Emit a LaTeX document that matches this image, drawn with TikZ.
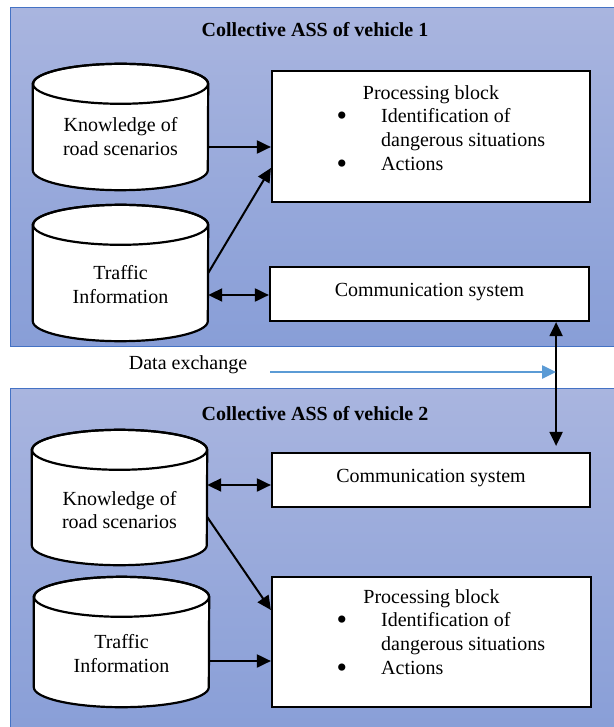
\documentclass[tikz,border=0pt]{standalone}
\usepackage{fontspec}
\setmainfont{Liberation Serif}
\usetikzlibrary{arrows.meta,calc}
\definecolor{panelborder}{HTML}{4472C4}
\definecolor{paneltop}{HTML}{A9B5DF}
\definecolor{panelbot}{HTML}{889ED7}
\definecolor{dataarrow}{HTML}{5B9BD5}
\newcommand\drawcylinder[1]{%
  \path[cylline] ($(#1.north west)+(0,20)$) -- ($(#1.south west)+(0,-20)$)
    arc[start angle=180,end angle=360,x radius=87.5pt,y radius=20pt]
    -- ($(#1.north east)+(0,20)$)
    arc[start angle=0,end angle=180,x radius=87.5pt,y radius=20pt] -- cycle;
  \draw[line width=2.2pt] ($(#1.north)+(0,20)$) ellipse[x radius=87.5pt,y radius=20pt];
}
\newcommand\bigbullet{\makebox[45pt][l]{\hspace*{0.5pt}\raisebox{-2.5pt}{\fontsize{30}{24}\selectfont\textbullet}}}
\begin{document}
\begin{tikzpicture}[x=1pt,y=-1pt,
  font=\fontsize{20}{23.5}\selectfont,
  panel/.style={draw=panelborder, line width=1pt, top color=paneltop, bottom color=panelbot},
  cylnode/.style={inner sep=0pt, minimum width=175pt},
  cylline/.style={draw=black, fill=white, line width=2.2pt},
  box/.style={draw=black, fill=white, line width=2.2pt, inner sep=0pt},
  txt/.style={align=center, inner sep=0pt},
  listtxt/.style={align=left, inner sep=0pt, anchor=west, font=\fontsize{20}{24}\selectfont},
  title/.style={inner sep=0pt, font=\fontsize{20}{23.5}\selectfont\bfseries},
  arr/.style={line width=2pt, -{Triangle[length=14pt,width=13pt]}},
  darr/.style={line width=2pt, {Triangle[length=14pt,width=13pt]}-{Triangle[length=14pt,width=13pt]}},
  blarr/.style={draw=dataarrow, line width=2.2pt, -{Triangle[length=14pt,width=13pt]}}
]
\useasboundingbox (0,0) rectangle (613,727);
\fill[white] (0,0) rectangle (613,727);

% panels
\path[panel] (10,8) rectangle (625,346);
\path[panel] (10,388) rectangle (625,740);
\node[title] (t1) at (315,29.5) {Collective ASS of vehicle 1};
\node[title] (t2) at (315,413.5) {Collective ASS of vehicle 2};

% cylinders, vehicle 1
\node[cylnode, minimum height=126pt] (k1) at (120.5,127) {};
\drawcylinder{k1}
\node[txt] (k1t) at (120.5,136.5) {Knowledge of\\road scenarios};
\node[cylnode, minimum height=136pt] (tr1) at (120.5,273) {};
\drawcylinder{tr1}
\node[txt] (tr1t) at (120.5,284.5) {Traffic\\Information};

% boxes, vehicle 1
\node[box, minimum width=318pt, minimum height=131pt] (p1) at (431,136.5) {};
\node[txt] (p1h) at (431,95) {Processing block};
\node[listtxt] (p1l) at (336,141) {\bigbullet Identification of\\\hspace*{45pt}dangerous situations\\\bigbullet Actions};
\node[box, minimum width=319pt, minimum height=54pt] (c1) at (429.5,294) {};
\node[txt] (c1t) at (429.5,292) {Communication system};

% cylinders, vehicle 2
\node[cylnode, minimum height=135pt] (k2) at (119.5,497.5) {};
\drawcylinder{k2}
\node[txt] (k2t) at (119.5,510) {Knowledge of\\road scenarios};
\node[cylnode, minimum height=130pt] (tr2) at (121.5,642) {};
\drawcylinder{tr2}
\node[txt] (tr2t) at (121.5,653.5) {Traffic\\Information};

% boxes, vehicle 2
\node[box, minimum width=318pt, minimum height=54pt] (c2) at (431,480) {};
\node[txt] (c2t) at (431,478) {Communication system};
\node[box, minimum width=319pt, minimum height=130pt] (p2) at (431.5,642) {};
\node[txt] (p2h) at (431.5,599) {Processing block};
\node[listtxt] (p2l) at (336,645) {\bigbullet Identification of\\\hspace*{45pt}dangerous situations\\\bigbullet Actions};

% connectors vehicle 1
\coordinate (a1s) at ($(k1.east)+(0,20)$);
\draw[arr] (a1s) -- (a1s -| p1.west);
\draw[arr] (tr1.east) -- ($(p1.west)+(0,31.5)$);
\coordinate (a3s) at ($(tr1.east)+(0,22)$);
\draw[darr] (a3s) -- (a3s -| c1.west);

% inter-vehicle
\coordinate (v1) at ($(c1.south east)+(-34,0)$);
\draw[darr, shorten >=6pt] (v1) -- (v1 |- c2.north);
\node[inner sep=0pt] (dxt) at (188,364.5) {Data exchange};
\coordinate (dxs) at (270,372);
\draw[blarr] (dxs) -- (dxs -| v1);

% connectors vehicle 2
\coordinate (a5s) at ($(k2.east)+(0,-12.5)$);
\draw[darr] (a5s) -- (a5s -| c2.west);
\draw[arr] ($(k2.east)+(0,19.5)$) -- ($(p2.west)+(0,-32)$);
\coordinate (a7s) at ($(tr2.east)+(0,19)$);
\draw[arr] (a7s) -- (a7s -| p2.west);
\end{tikzpicture}
\end{document}
